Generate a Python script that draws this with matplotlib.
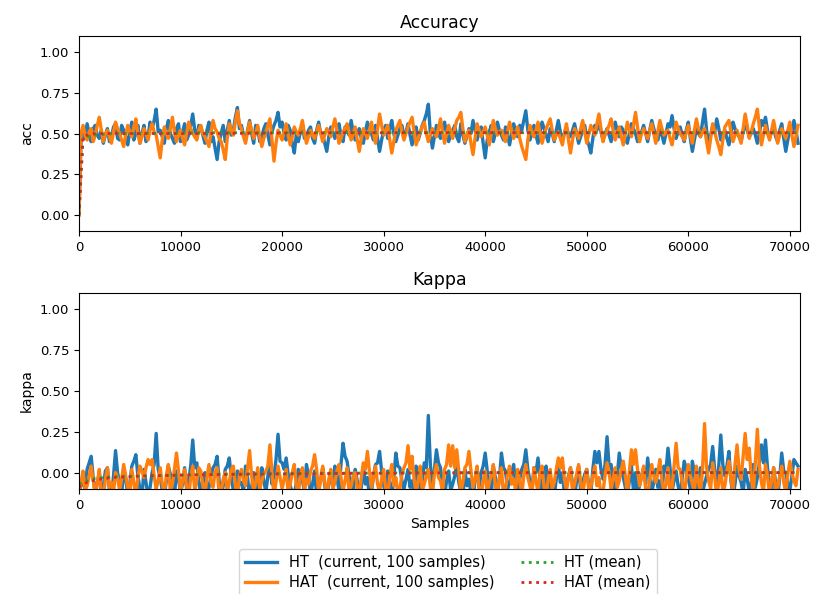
import matplotlib
matplotlib.use("Agg")
import matplotlib.pyplot as plt
import numpy as np

# one point every 200 samples
step = 200

acc_ht = [
    0.00, 0.45, 0.52, 0.47, 0.56, 0.50, 0.45, 0.53, 0.55, 0.49, 0.47, 0.52, 0.44, 0.49, 0.53, 0.45, 0.48, 0.54, 0.56, 0.47,
    0.46, 0.55, 0.52, 0.48, 0.43, 0.51, 0.57, 0.46, 0.50, 0.55, 0.44, 0.50, 0.55, 0.45, 0.48, 0.57, 0.53, 0.58, 0.65, 0.51,
    0.52, 0.48, 0.44, 0.53, 0.58, 0.50, 0.47, 0.44, 0.53, 0.56, 0.45, 0.51, 0.56, 0.46, 0.49, 0.55, 0.62, 0.52, 0.47, 0.55,
    0.54, 0.49, 0.44, 0.52, 0.57, 0.45, 0.48, 0.41, 0.34, 0.45, 0.50, 0.55, 0.45, 0.52, 0.58, 0.49, 0.52, 0.60, 0.66, 0.53,
    0.55, 0.49, 0.46, 0.52, 0.58, 0.50, 0.44, 0.55, 0.53, 0.45, 0.48, 0.53, 0.56, 0.49, 0.43, 0.51, 0.55, 0.58, 0.63, 0.54,
    0.57, 0.50, 0.46, 0.55, 0.52, 0.44, 0.38, 0.49, 0.45, 0.51, 0.55, 0.47, 0.48, 0.52, 0.54, 0.47, 0.44, 0.52, 0.57, 0.50,
    0.49, 0.44, 0.39, 0.48, 0.54, 0.51, 0.47, 0.52, 0.56, 0.49, 0.45, 0.54, 0.52, 0.49, 0.58, 0.51, 0.46, 0.50, 0.53, 0.47,
    0.44, 0.51, 0.57, 0.52, 0.50, 0.46, 0.55, 0.47, 0.39, 0.46, 0.52, 0.55, 0.47, 0.53, 0.58, 0.50, 0.45, 0.49, 0.53, 0.55,
    0.48, 0.51, 0.56, 0.49, 0.43, 0.50, 0.54, 0.46, 0.50, 0.55, 0.58, 0.62, 0.68, 0.50, 0.41, 0.48, 0.55, 0.50, 0.47, 0.52,
    0.57, 0.50, 0.45, 0.49, 0.52, 0.55, 0.48, 0.45, 0.56, 0.49, 0.44, 0.48, 0.53, 0.50, 0.58, 0.52, 0.46, 0.51, 0.54, 0.44,
    0.35, 0.46, 0.51, 0.55, 0.45, 0.50, 0.57, 0.52, 0.49, 0.46, 0.54, 0.49, 0.43, 0.50, 0.56, 0.52, 0.48, 0.55, 0.52, 0.58,
    0.64, 0.52, 0.46, 0.50, 0.55, 0.49, 0.44, 0.51, 0.57, 0.53, 0.49, 0.45, 0.53, 0.50, 0.45, 0.52, 0.58, 0.51, 0.47, 0.50,
    0.54, 0.50, 0.48, 0.52, 0.56, 0.50, 0.44, 0.48, 0.52, 0.55, 0.47, 0.43, 0.38, 0.47, 0.55, 0.52, 0.59, 0.51, 0.46, 0.50,
    0.53, 0.49, 0.45, 0.51, 0.57, 0.52, 0.48, 0.54, 0.52, 0.47, 0.44, 0.50, 0.56, 0.53, 0.50, 0.45, 0.47, 0.51, 0.55, 0.50,
    0.45, 0.52, 0.58, 0.53, 0.49, 0.46, 0.53, 0.49, 0.44, 0.50, 0.56, 0.54, 0.61, 0.53, 0.47, 0.51, 0.54, 0.49, 0.45, 0.52,
    0.57, 0.47, 0.39, 0.46, 0.53, 0.50, 0.48, 0.57, 0.65, 0.52, 0.44, 0.49, 0.55, 0.51, 0.59, 0.53, 0.46, 0.49, 0.52, 0.47,
    0.43, 0.50, 0.57, 0.53, 0.50, 0.48, 0.45, 0.51, 0.56, 0.52, 0.48, 0.50, 0.53, 0.49, 0.44, 0.50, 0.58, 0.55, 0.60, 0.52,
    0.47, 0.51, 0.54, 0.48, 0.45, 0.52, 0.56, 0.47, 0.39, 0.46, 0.53, 0.50, 0.58, 0.52, 0.44,
]

acc_hat = [
    0.00, 0.50, 0.55, 0.49, 0.46, 0.51, 0.53, 0.45, 0.49, 0.55, 0.60, 0.52, 0.45, 0.50, 0.52, 0.48, 0.44, 0.51, 0.57, 0.53,
    0.50, 0.46, 0.42, 0.49, 0.55, 0.51, 0.48, 0.54, 0.59, 0.50, 0.44, 0.48, 0.53, 0.50, 0.46, 0.52, 0.56, 0.51, 0.49, 0.42,
    0.35, 0.46, 0.54, 0.50, 0.47, 0.53, 0.60, 0.51, 0.45, 0.49, 0.52, 0.47, 0.43, 0.50, 0.57, 0.53, 0.50, 0.48, 0.46, 0.52,
    0.55, 0.50, 0.48, 0.45, 0.42, 0.51, 0.58, 0.53, 0.51, 0.47, 0.45, 0.40, 0.34, 0.47, 0.56, 0.52, 0.49, 0.57, 0.64, 0.56,
    0.53, 0.48, 0.44, 0.51, 0.57, 0.52, 0.47, 0.50, 0.55, 0.48, 0.42, 0.47, 0.51, 0.55, 0.59, 0.46, 0.33, 0.44, 0.52, 0.49,
    0.46, 0.51, 0.56, 0.49, 0.43, 0.48, 0.54, 0.51, 0.49, 0.53, 0.58, 0.50, 0.44, 0.48, 0.52, 0.49, 0.47, 0.51, 0.55, 0.50,
    0.45, 0.49, 0.53, 0.51, 0.48, 0.54, 0.59, 0.52, 0.44, 0.47, 0.51, 0.53, 0.56, 0.51, 0.46, 0.50, 0.54, 0.46, 0.39, 0.47,
    0.53, 0.50, 0.47, 0.52, 0.57, 0.50, 0.44, 0.53, 0.62, 0.55, 0.49, 0.52, 0.55, 0.46, 0.38, 0.45, 0.52, 0.55, 0.58, 0.51,
    0.46, 0.50, 0.54, 0.57, 0.60, 0.51, 0.43, 0.47, 0.51, 0.54, 0.57, 0.50, 0.45, 0.49, 0.53, 0.50, 0.48, 0.53, 0.59, 0.51,
    0.44, 0.50, 0.55, 0.51, 0.47, 0.53, 0.58, 0.60, 0.63, 0.53, 0.45, 0.49, 0.52, 0.44, 0.37, 0.47, 0.56, 0.52, 0.48, 0.51,
    0.54, 0.49, 0.43, 0.50, 0.58, 0.53, 0.49, 0.51, 0.52, 0.48, 0.45, 0.51, 0.57, 0.52, 0.47, 0.50, 0.54, 0.47, 0.42, 0.38,
    0.34, 0.46, 0.55, 0.51, 0.48, 0.52, 0.57, 0.50, 0.44, 0.49, 0.53, 0.56, 0.59, 0.52, 0.46, 0.49, 0.51, 0.47, 0.43, 0.50,
    0.56, 0.46, 0.38, 0.46, 0.53, 0.50, 0.47, 0.53, 0.58, 0.51, 0.44, 0.50, 0.55, 0.52, 0.49, 0.56, 0.62, 0.53, 0.45, 0.49,
    0.52, 0.55, 0.59, 0.52, 0.46, 0.50, 0.54, 0.48, 0.43, 0.50, 0.57, 0.52, 0.48, 0.55, 0.63, 0.54, 0.45, 0.50, 0.53, 0.50,
    0.47, 0.52, 0.56, 0.50, 0.44, 0.51, 0.58, 0.53, 0.49, 0.51, 0.52, 0.47, 0.43, 0.50, 0.57, 0.53, 0.50, 0.48, 0.46, 0.51,
    0.55, 0.49, 0.44, 0.52, 0.59, 0.53, 0.48, 0.51, 0.53, 0.45, 0.38, 0.47, 0.56, 0.51, 0.46, 0.42, 0.37, 0.46, 0.54, 0.56,
    0.58, 0.51, 0.45, 0.49, 0.52, 0.48, 0.44, 0.53, 0.62, 0.55, 0.47, 0.51, 0.56, 0.60, 0.65, 0.54, 0.43, 0.49, 0.55, 0.50,
    0.46, 0.52, 0.58, 0.51, 0.44, 0.49, 0.53, 0.50, 0.47, 0.52, 0.57, 0.49, 0.42, 0.48, 0.55,
]

kappa_ht = [
    -0.12, -0.08, -0.05, -0.10, 0.02, 0.06, 0.10, -0.03, -0.14, -0.06, 0.00, -0.12, -0.08, 0.01, 0.03, -0.11, -0.15, -0.02, 0.135, 0.00,
    -0.06, -0.13, 0.01, -0.04, -0.13, -0.07, 0.04, 0.07, 0.11, -0.02, -0.10, -0.15, 0.02, -0.06, -0.14, -0.09, 0.00, 0.05, 0.24, 0.02,
    -0.03, -0.11, -0.15, -0.05, 0.04, -0.01, -0.08, -0.14, 0.01, -0.04, -0.12, -0.07, 0.03, -0.10, -0.05, 0.04, 0.20, 0.03, 0.06, -0.06,
    -0.13, -0.04, 0.00, -0.12, -0.09, -0.02, 0.03, 0.05, 0.10, -0.05, -0.14, -0.08, 0.02, 0.04, 0.09, -0.03, -0.11, -0.15, 0.01, -0.07,
    -0.06, -0.12, 0.04, -0.03, -0.15, -0.09, 0.00, -0.13, -0.04, -0.10, 0.03, -0.05, -0.12, -0.02, 0.05, -0.07, -0.02, 0.08, 0.235, 0.07,
    0.06, 0.02, 0.09, -0.01, -0.08, -0.12, -0.14, -0.06, 0.02, -0.03, -0.05, -0.11, 0.05, -0.02, -0.13, -0.07, 0.01, -0.14, -0.09, -0.04,
    0.03, -0.08, -0.15, -0.06, 0.00, -0.10, 0.04, -0.03, -0.11, 0.05, 0.18, 0.10, 0.07, -0.02, -0.06, -0.13, 0.02, -0.05, -0.14, -0.09,
    0.04, -0.07, -0.03, -0.15, -0.12, -0.02, 0.05, 0.06, 0.13, 0.01, -0.08, -0.12, 0.01, -0.06, -0.15, -0.03, 0.12, 0.04, 0.03, -0.05,
    -0.10, -0.04, 0.02, -0.09, -0.05, -0.14, 0.04, -0.02, -0.13, -0.06, 0.06, 0.03, 0.35, 0.05, -0.09, 0.02, 0.14, 0.06, 0.03, -0.08,
    -0.14, -0.05, 0.01, -0.11, -0.07, -0.02, 0.05, -0.06, -0.12, -0.15, 0.02, -0.08, -0.04, -0.13, -0.15, -0.05, 0.03, -0.09, 0.00, 0.04,
    0.12, 0.01, -0.08, -0.14, 0.04, -0.03, -0.13, -0.04, 0.12, 0.03, 0.01, -0.10, -0.06, -0.01, 0.05, -0.07, -0.15, -0.04, 0.02, 0.05,
    0.14, 0.02, -0.05, -0.12, 0.03, 0.00, 0.09, -0.03, -0.12, -0.07, 0.04, -0.14, -0.02, -0.09, -0.14, -0.04, 0.05, -0.06, 0.00, -0.13,
    -0.09, -0.02, 0.03, -0.07, -0.15, -0.05, 0.04, -0.11, -0.06, -0.01, 0.02, -0.08, -0.13, 0.02, 0.13, 0.06, 0.13, 0.02, -0.04, 0.05,
    0.22, 0.04, 0.05, -0.06, -0.10, -0.02, 0.12, 0.03, -0.03, -0.09, -0.14, -0.05, 0.04, -0.11, 0.00, -0.13, -0.08, -0.02, 0.03, -0.07,
    0.09, -0.03, -0.12, -0.06, 0.02, -0.09, -0.05, -0.14, 0.04, 0.01, 0.15, 0.03, -0.11, -0.05, 0.01, -0.08, -0.15, -0.03, 0.07, 0.02,
    -0.04, -0.10, 0.07, 0.00, -0.13, -0.05, 0.03, -0.12, -0.07, -0.02, 0.02, 0.05, 0.16, 0.02, -0.10, 0.04, 0.23, 0.05, -0.02, 0.04,
    0.13, -0.05, -0.14, -0.07, 0.04, -0.02, -0.06, -0.13, 0.02, -0.04, -0.12, -0.06, 0.05, -0.09, -0.03, 0.06, 0.17, 0.06, 0.20, 0.03,
    -0.08, -0.13, 0.03, -0.06, -0.15, -0.03, 0.12, 0.01, 0.00, -0.07, -0.11, -0.02, 0.08, 0.06, 0.04,
]

kappa_hat = [
    -0.14, -0.06, 0.01, -0.11, -0.08, -0.02, 0.04, -0.05, -0.12, -0.07, 0.02, -0.13, -0.15, -0.04, 0.03, -0.09, -0.06, -0.12, 0.00, -0.03,
    -0.11, -0.04, 0.05, -0.02, -0.09, -0.14, 0.02, -0.06, -0.14, -0.03, 0.04, 0.01, -0.03, 0.03, 0.08, 0.05, 0.08, -0.02, -0.10, -0.05,
    0.03, -0.07, -0.13, -0.02, 0.05, -0.12, -0.07, 0.02, 0.12, 0.01, -0.12, -0.05, 0.02, -0.09, -0.15, -0.03, 0.04, -0.11, -0.05, 0.03,
    0.01, -0.08, -0.14, -0.03, 0.05, -0.06, -0.09, 0.00, 0.03, -0.13, -0.11, -0.04, 0.00, -0.12, -0.06, 0.02, 0.04, -0.08, -0.15, -0.02,
    0.02, -0.05, -0.08, 0.03, 0.135, -0.02, -0.12, -0.06, 0.03, -0.10, -0.05, -0.01, 0.01, 0.04, 0.17, 0.00, -0.14, -0.06, 0.04, -0.03,
    -0.10, -0.04, 0.02, -0.13, -0.07, 0.00, 0.05, -0.08, -0.13, -0.02, 0.03, -0.11, -0.04, -0.07, 0.01, 0.04, 0.11, 0.02, -0.12, -0.05,
    0.04, -0.06, -0.15, -0.04, 0.02, -0.10, -0.06, 0.01, 0.05, -0.03, -0.11, -0.05, 0.03, -0.12, -0.08, -0.02, 0.00, -0.09, -0.14, -0.03,
    0.06, 0.02, 0.13, 0.01, -0.09, -0.03, 0.04, -0.07, -0.12, -0.04, 0.02, -0.10, -0.15, -0.02, 0.05, -0.08, -0.03, -0.13, -0.10, -0.01,
    0.03, 0.06, 0.165, 0.02, 0.10, -0.04, -0.13, -0.05, 0.04, -0.11, -0.07, -0.02, 0.02, -0.09, -0.14, 0.00, 0.05, -0.03, -0.05, -0.12,
    0.02, 0.05, 0.17, 0.04, 0.165, 0.03, 0.14, 0.01, -0.12, -0.06, 0.03, 0.05, 0.13, 0.01, -0.09, -0.04, 0.04, -0.10, -0.15, -0.05,
    0.01, -0.12, -0.06, -0.02, 0.05, -0.08, -0.13, -0.03, 0.03, -0.14, -0.10, -0.01, 0.04, -0.07, -0.04, -0.11, 0.02, -0.05, -0.14, -0.02,
    0.05, -0.03, -0.08, -0.13, 0.03, -0.05, -0.12, 0.00, 0.04, -0.09, -0.15, -0.04, 0.02, -0.10, -0.06, 0.02, 0.09, 0.03, 0.09, -0.04,
    -0.11, -0.03, 0.03, -0.12, -0.07, -0.01, 0.05, -0.06, -0.14, -0.04, 0.02, -0.11, -0.09, -0.02, 0.04, -0.08, -0.03, -0.14, -0.12, -0.02,
    0.06, 0.00, -0.10, -0.04, 0.03, -0.09, -0.05, 0.02, 0.07, -0.02, -0.13, 0.01, 0.14, 0.05, 0.14, 0.02, -0.08, -0.03, 0.04, -0.10,
    -0.15, -0.04, 0.05, -0.02, -0.06, 0.00, 0.08, -0.05, -0.12, -0.07, 0.03, -0.12, -0.09, 0.04, 0.18, 0.03, 0.02, -0.06, -0.14, -0.03,
    0.05, -0.02, -0.07, -0.12, 0.04, -0.05, -0.13, 0.02, 0.30, 0.03, -0.05, -0.10, 0.06, -0.02, -0.15, -0.06, 0.03, -0.12, -0.08, 0.01,
    0.07, -0.04, -0.11, 0.05, 0.17, 0.02, -0.04, 0.10, 0.24, 0.08, 0.15, -0.03, -0.13, 0.06, 0.265, 0.04, -0.06, -0.12, 0.05, -0.02,
    -0.14, -0.05, 0.03, -0.10, -0.09, -0.02, 0.04, -0.06, -0.12, -0.01, 0.07, 0.00, -0.05, -0.08, 0.02,
]

# running means, read at a few sample counts
mean_samples = [0, 400, 800, 1600, 3200, 6400, 12800, 25600, 40000, 55000, 70800]
acc_ht_mean = [0.0, 0.47, 0.48, 0.49, 0.50, 0.50, 0.505, 0.505, 0.505, 0.505, 0.505]
acc_hat_mean = [0.0, 0.48, 0.49, 0.50, 0.50, 0.50, 0.50, 0.505, 0.505, 0.505, 0.505]
kappa_ht_mean = [-0.07, -0.06, -0.05, -0.035, -0.025, -0.02, -0.01, -0.003, 0.0, 0.0, 0.0]
kappa_hat_mean = [-0.09, -0.07, -0.06, -0.045, -0.03, -0.02, -0.012, -0.005, 0.0, 0.0, 0.0]

samples = np.arange(len(acc_ht)) * step

fig = plt.figure(figsize=(8.16, 5.94), dpi=100)
ax1 = fig.add_axes([0.0968, 0.6111, 0.8836, 0.3283])
ax2 = fig.add_axes([0.0968, 0.1768, 0.8836, 0.3300])

ax1.plot(samples, acc_ht, color="C0", lw=2.4, label="HT  (current, 100 samples)")
ax1.plot(samples[:len(acc_hat)], acc_hat, color="C1", lw=2.4, label="HAT  (current, 100 samples)")
ax1.plot(mean_samples, acc_ht_mean, color="C2", lw=2, ls=":", label="HT (mean)")
ax1.plot(mean_samples, acc_hat_mean, color="C3", lw=2, ls=":", label="HAT (mean)")

ax2.plot(samples[:len(kappa_ht)], kappa_ht, color="C0", lw=2.4)
ax2.plot(samples[:len(kappa_hat)], kappa_hat, color="C1", lw=2.4)
ax2.plot(mean_samples, kappa_ht_mean, color="C2", lw=2, ls=":")
ax2.plot(mean_samples, kappa_hat_mean, color="C3", lw=2, ls=":")

for ax, title, ylab in [(ax1, "Accuracy", "acc"), (ax2, "Kappa", "kappa")]:
    ax.set_xlim(0, 71000)
    ax.set_ylim(-0.1, 1.1)
    ax.set_yticks([0.0, 0.25, 0.5, 0.75, 1.0])
    ax.set_title(title, fontsize=12.5)
    ax.set_ylabel(ylab, fontsize=10)
    ax.tick_params(labelsize=9.5)

ax2.set_xlabel("Samples", fontsize=10)

fig.legend(*ax1.get_legend_handles_labels(), loc="upper center",
           bbox_to_anchor=(0.549, 0.088), ncol=2, fontsize=10.5,
           handlelength=2.2, columnspacing=1.8, labelspacing=0.35)

fig.savefig("out.png", dpi=100)
